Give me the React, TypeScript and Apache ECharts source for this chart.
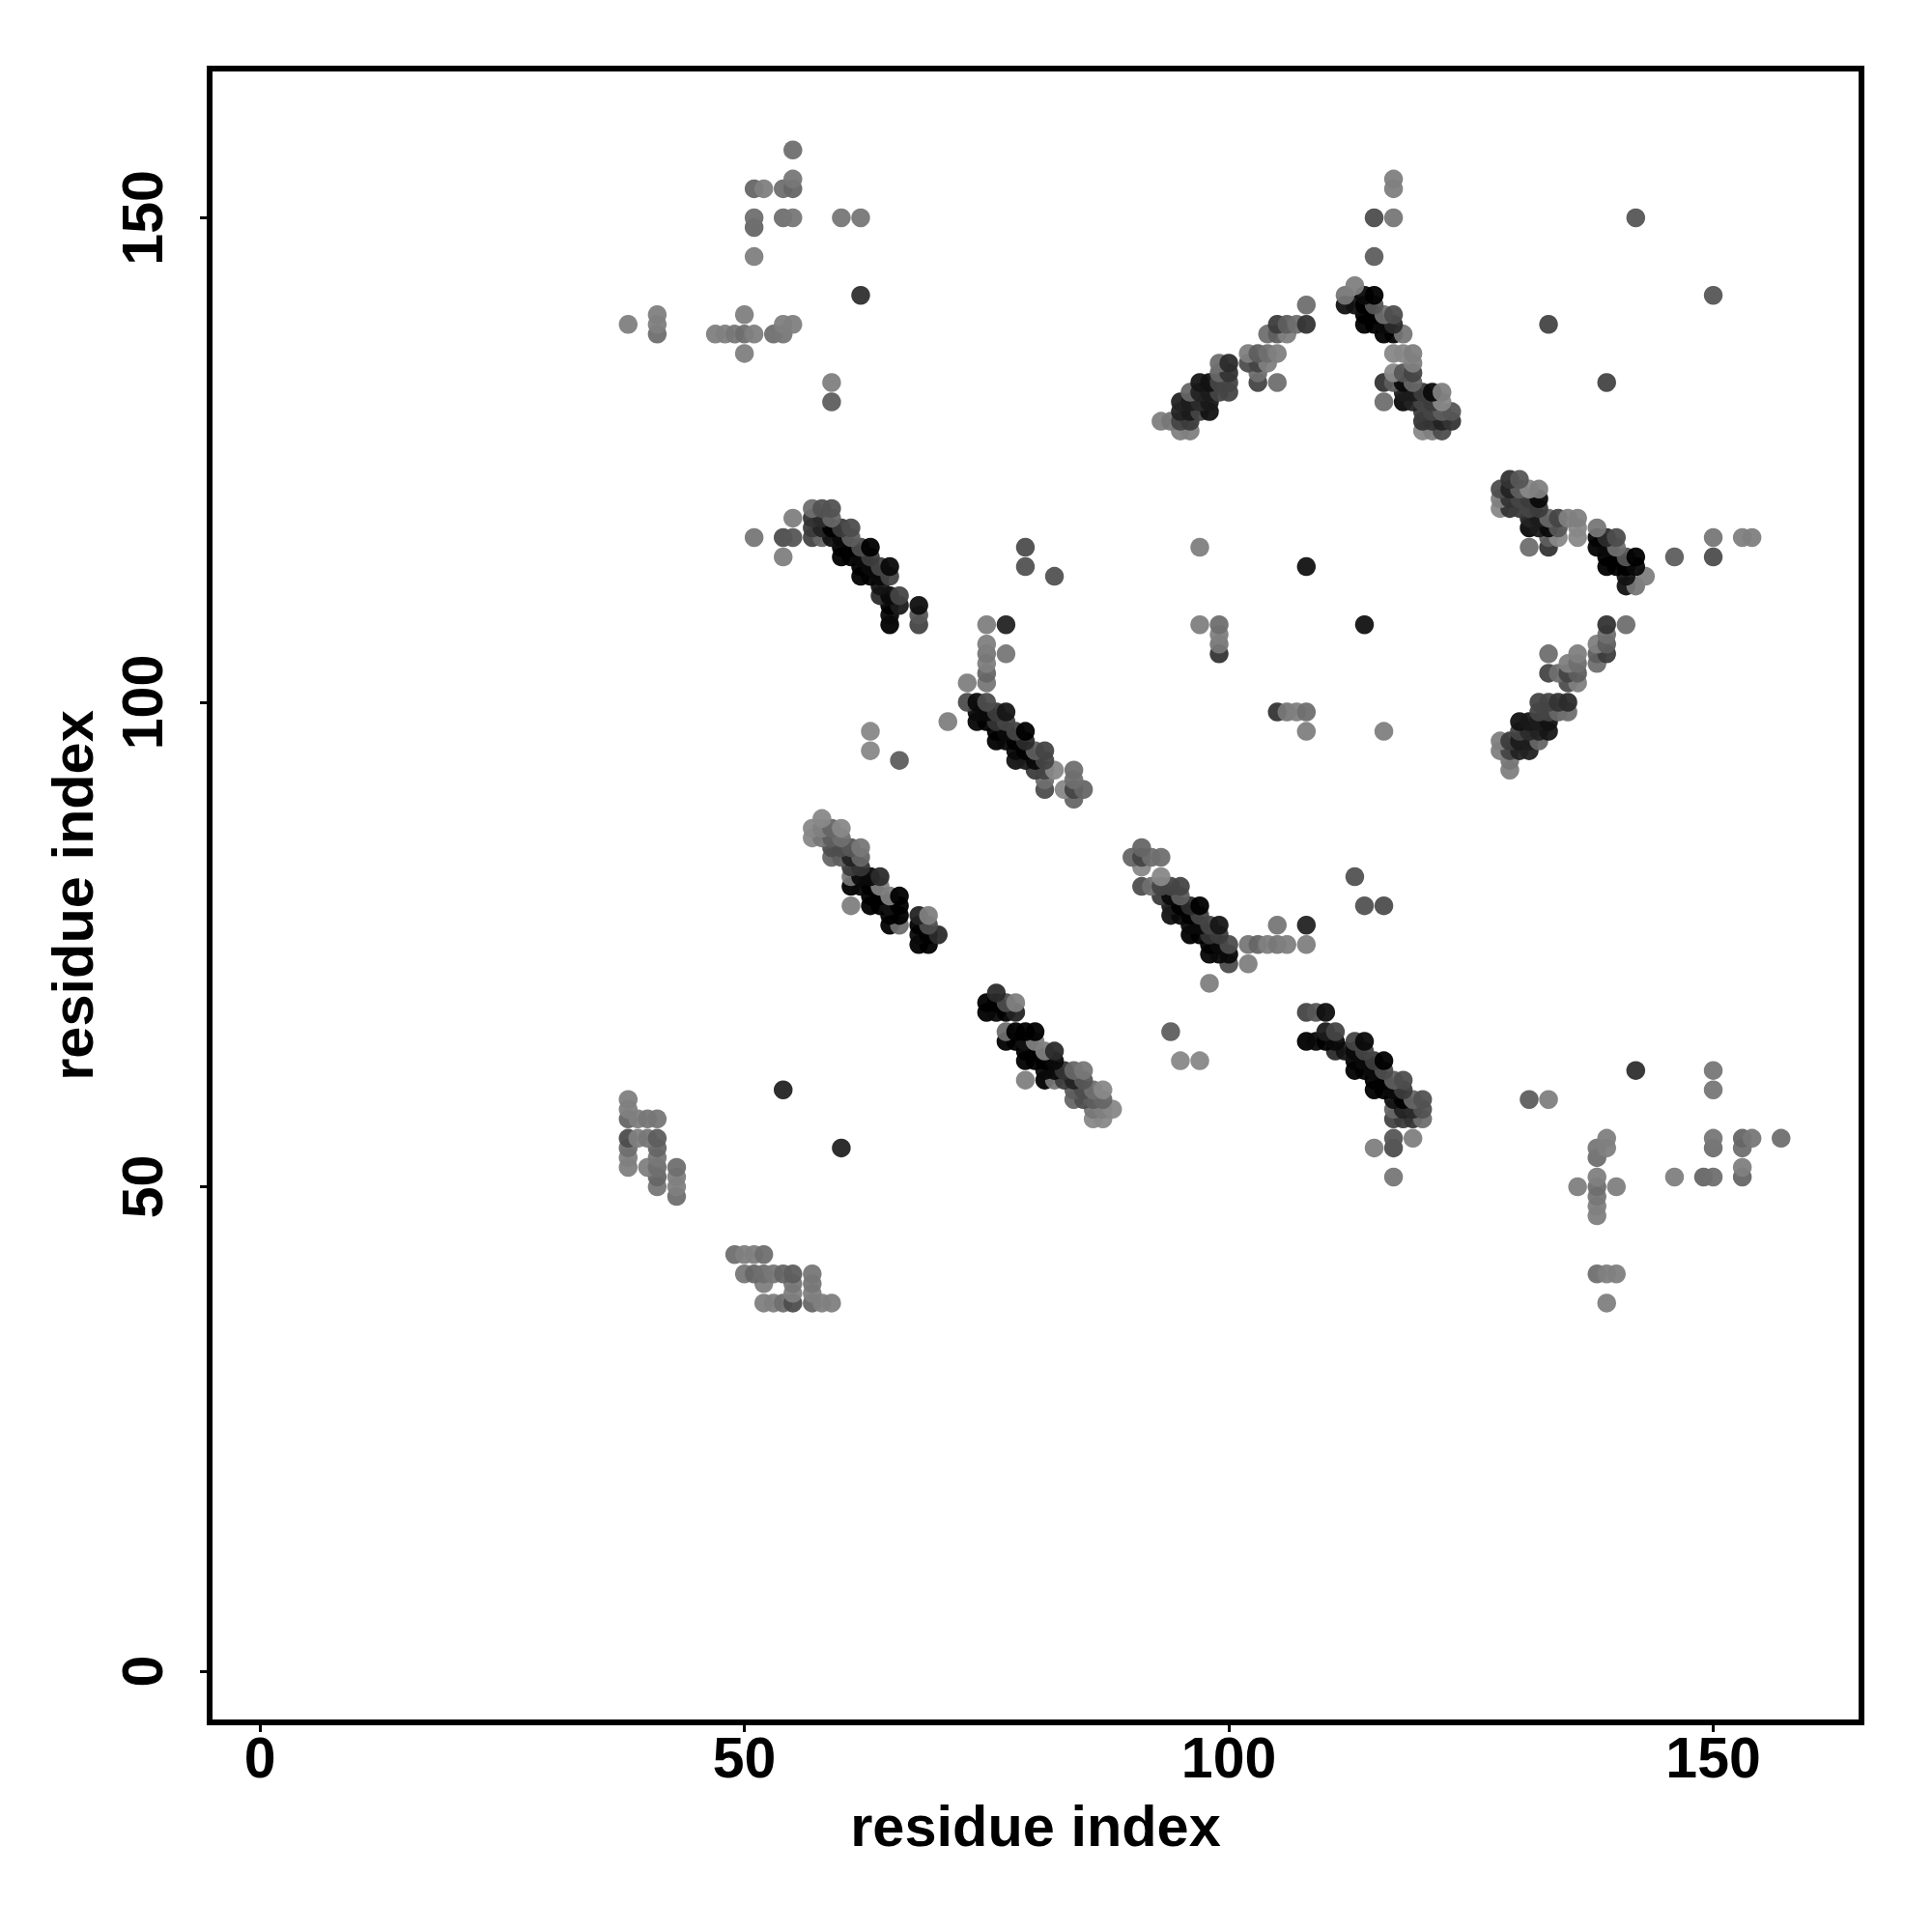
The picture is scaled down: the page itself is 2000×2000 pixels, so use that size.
import React, { useEffect, useRef } from "react";
import * as echarts from "echarts";

const tickValues = [0, 50, 100, 150];
const axisTitle = "residue index";

// Contacts of a symmetric residue map: [residue i, residue j, observed grey level]
const farNorth = [
  [55,157,0x70],[51,153,0x68],[52,153,0x80],[54,153,0x70],[55,153,0x68],[55,154,0x78],
  [51,150,0x70],[51,149,0x68],[54,150,0x70],[55,150,0x78],[60,150,0x78],[62,150,0x78],
  [51,146,0x80],[62,142,0x33],[38,139,0x80],[41,140,0x80],[41,139,0x80],[41,138,0x70],
  [47,138,0x80],[48,138,0x80],[49,138,0x78],[50,138,0x70],[51,138,0x80],[53,138,0x70],
  [54,138,0x78],[54,139,0x80],[55,139,0x80],[50,140,0x80],[50,136,0x80],[59,133,0x80],[59,131,0x60],
];
const nearPairs = [
  [54,60,0x28],
  [38,59,0x80],[38,58,0x80],[38,57,0x68],[39,57,0x80],[40,57,0x78],[41,57,0x78],
  [38,55,0x50],[39,55,0x80],[40,55,0x78],[41,55,0x60],[38,54,0x70],[38,53,0x80],[38,52,0x80],
  [41,54,0x68],[41,53,0x78],[41,52,0x70],[40,52,0x80],[41,51,0x68],[41,50,0x78],
  [43,52,0x70],[43,51,0x80],[43,50,0x80],[43,49,0x70],
];
const stripA = [
  [55,119,0x80],[51,117,0x78],[54,117,0x50],[55,117,0x58],[54,115,0x80],
  [57,120,0x70],[58,120,0x55],[59,120,0x55],[57,119,0x38],[58,119,0x30],[59,119,0x68],
  [57,118,0x40],[58,118,0x28],[59,118,0x08],[57,117,0x48],[58,117,0x68],[59,117,0x18],
  [60,118,0x40],[61,118,0x50],[60,117,0x10],[61,117,0x60],
  [60,116,0x05],[61,116,0x08],[62,116,0x50],[63,116,0x00],
  [60,115,0x05],[61,115,0x08],[62,115,0x10],[63,115,0x40],
  [62,114,0x08],[63,114,0x10],[64,114,0x48],[65,114,0x10],
  [62,113,0x08],[63,113,0x0a],[64,113,0x10],[65,113,0x48],
  [64,112,0x1a],[64,111,0x30],[65,111,0x10],[66,111,0x48],
  [65,110,0x08],[66,110,0x20],[65,109,0x10],[65,108,0x00],
  [68,110,0x15],[68,109,0x58],[68,108,0x48],
  [79,116,0x50],[79,114,0x55],[82,113,0x55],[97,116,0x80],[108,114,0x18],
];
const stripB = [
  [75,108,0x80],[77,108,0x28],[75,106,0x80],[75,105,0x78],[75,104,0x80],[75,103,0x68],[75,102,0x78],
  [77,105,0x78],[73,102,0x80],[71,98,0x80],[66,94,0x60],[63,95,0x88],[63,97,0x88],
  [73,100,0x50],[74,100,0x10],[75,100,0x50],[74,99,0x10],[75,99,0x10],[76,99,0x40],[77,99,0x1c],
  [74,98,0x0c],[75,98,0x08],[76,98,0x38],[77,98,0x48],
  [76,97,0x08],[77,97,0x10],[78,97,0x48],[79,97,0x00],
  [76,96,0x08],[77,96,0x10],[78,96,0x08],[79,96,0x30],
  [78,95,0x10],[79,95,0x08],[80,95,0x60],[81,95,0x48],
  [78,94,0x18],[79,94,0x20],[80,94,0x10],[81,94,0x48],
  [80,93,0x40],[81,93,0x48],[82,93,0x88],[81,92,0x70],[81,91,0x50],
  [84,93,0x70],[84,92,0x70],[83,91,0x88],[84,91,0x48],[85,91,0x68],[84,90,0x68],
  [97,108,0x80],[99,108,0x70],[99,107,0x80],[99,106,0x78],[99,105,0x38],
];
const stripC = [
  [58,88,0x88],[57,87,0x88],[57,86,0x88],[58,87,0x80],[58,86,0x78],[59,87,0x68],[60,87,0x88],
  [59,86,0x60],[60,86,0x70],[59,85,0x50],[60,85,0x50],[61,85,0x58],[62,85,0x78],
  [59,84,0x68],[60,84,0x60],[61,84,0x28],[62,84,0x68],[61,83,0x40],[62,83,0x38],
  [61,82,0x78],[62,82,0x10],[63,82,0x10],[64,82,0x30],
  [61,81,0x05],[62,81,0x10],[63,81,0x00],[64,81,0x80],
  [63,80,0x00],[64,80,0x00],[65,80,0x80],[66,80,0x00],
  [61,79,0x80],[63,79,0x00],[64,79,0x00],[65,79,0x18],[66,79,0x00],
  [65,78,0x08],[66,78,0x00],[65,77,0x08],[66,77,0x70],
  [68,78,0x28],[69,78,0x80],[68,77,0x08],[69,77,0x50],
  [68,76,0x10],[69,76,0x08],[70,76,0x30],[68,75,0x05],[69,75,0x05],
];
const archLeft = [
  [108,141,0x70],[108,139,0x38],[107,139,0x70],[106,139,0x60],[105,139,0x40],
  [106,138,0x80],[105,138,0x60],[104,138,0x70],
  [105,136,0x80],[104,136,0x70],[103,136,0x60],[102,136,0x80],
  [104,135,0x80],[103,135,0x48],[102,135,0x50],[103,134,0x70],[103,133,0x48],[105,133,0x70],
  [100,135,0x30],[99,135,0x70],[100,134,0x38],[99,134,0x68],[100,133,0x48],[100,132,0x48],
  [99,133,0x48],[99,132,0x48],[98,133,0x18],[97,133,0x1c],[98,132,0x20],[97,132,0x28],[96,132,0x68],
  [96,131,0x22],[95,131,0x28],[97,131,0x30],[98,131,0x1e],
  [95,130,0x28],[96,130,0x20],[97,130,0x48],[98,130,0x18],
  [95,129,0x48],[96,129,0x40],[93,129,0x80],[94,129,0x78],[95,128,0x80],[96,128,0x80],
];
const archRight = [
  [113,143,0x80],[112,142,0x78],[114,142,0x10],[115,142,0x00],
  [112,141,0x18],[113,141,0x18],[114,141,0x00],[115,141,0x58],
  [114,140,0x00],[115,140,0x00],[116,140,0x70],[117,140,0x50],
  [114,139,0x00],[115,139,0x05],[116,139,0x10],[117,139,0x30],
  [116,138,0x08],[117,138,0x0a],[118,138,0x78],
  [117,136,0x88],[118,136,0x88],[119,136,0x80],[119,135,0x80],
  [119,134,0x48],[118,134,0x58],[117,134,0x88],
  [116,133,0x38],[117,133,0x60],[118,133,0x10],[119,133,0x68],[116,131,0x70],
  [118,132,0x20],[118,131,0x10],[119,131,0x28],[119,132,0x20],[120,132,0x40],[121,132,0x10],[122,132,0x80],
  [120,131,0x48],[121,131,0x40],[122,131,0x88],
  [120,130,0x40],[121,130,0x48],[122,130,0x60],[123,130,0x58],
  [120,129,0x38],[121,129,0x38],[122,129,0x28],[123,129,0x38],
  [120,128,0x88],[121,128,0x80],[122,128,0x50],
];
const farEast = [
  [142,150,0x58],[133,139,0x48],[117,154,0x80],[117,153,0x80],[115,150,0x50],[117,150,0x78],[115,146,0x60],
];

const contacts = [...farNorth, ...nearPairs, ...stripA, ...stripB, ...stripC, ...archLeft, ...archRight, ...farEast];

const OPACITY = 0.95;
const fill = (g: number) => {
  const v = Math.max(0, Math.round((g + 6 - 255 * (1 - OPACITY)) / OPACITY));
  return `rgb(${v},${v},${v})`;
};

const points = contacts
  .flatMap(([i, j, g]) => [[i, j, g], [j, i, g]])
  .sort((a, b) => a[1] - b[1] || a[0] - b[0]);

const FONT = "Liberation Sans";

export default function App() {
  const ref = useRef<HTMLDivElement>(null);
  useEffect(() => {
    document.body.style.margin = "0";
    const chart = echarts.init(ref.current!, undefined, { renderer: "svg" });
    const baseAxis = {
      type: "value",
      min: -5.2,
      max: 165.3,
      name: axisTitle,
      nameLocation: "middle",
      nameTextStyle: { fontFamily: FONT, fontWeight: "bold", fontSize: 59.5, color: "#000" },
      axisLine: { show: false, onZero: false },
      axisTick: { show: true, length: 10, lineStyle: { color: "#000", width: 3 }, customValues: tickValues, inside: false },
      splitLine: { show: false },
    };
    chart.setOption({
      animation: false,
      backgroundColor: "#fff",
      grid: { left: 217, top: 71, width: 1710, height: 1712, show: true, borderColor: "#000", borderWidth: 6, backgroundColor: "transparent" },
      xAxis: {
        ...baseAxis,
        nameGap: 77,
        axisLabel: { customValues: tickValues, margin: 7, color: "#000", fontFamily: FONT, fontWeight: "bold", fontSize: 59 },
      },
      yAxis: {
        ...baseAxis,
        min: -5.28,
        max: 165.4,
        nameGap: 112,
        axisLabel: { customValues: tickValues, rotate: 90, margin: 40, color: "#000", fontFamily: FONT, fontWeight: "bold", fontSize: 59 },
      },
      series: [{
        type: "scatter",
        symbol: "circle",
        symbolSize: 19.5,
        silent: true,
        data: points.map(([x, y, g]) => ({ value: [x, y], itemStyle: { color: fill(g), opacity: OPACITY } })),
      }],
    });
    return () => chart.dispose();
  }, []);
  return <div ref={ref} style={{ width: 2000, height: 2000 }} />;
}
